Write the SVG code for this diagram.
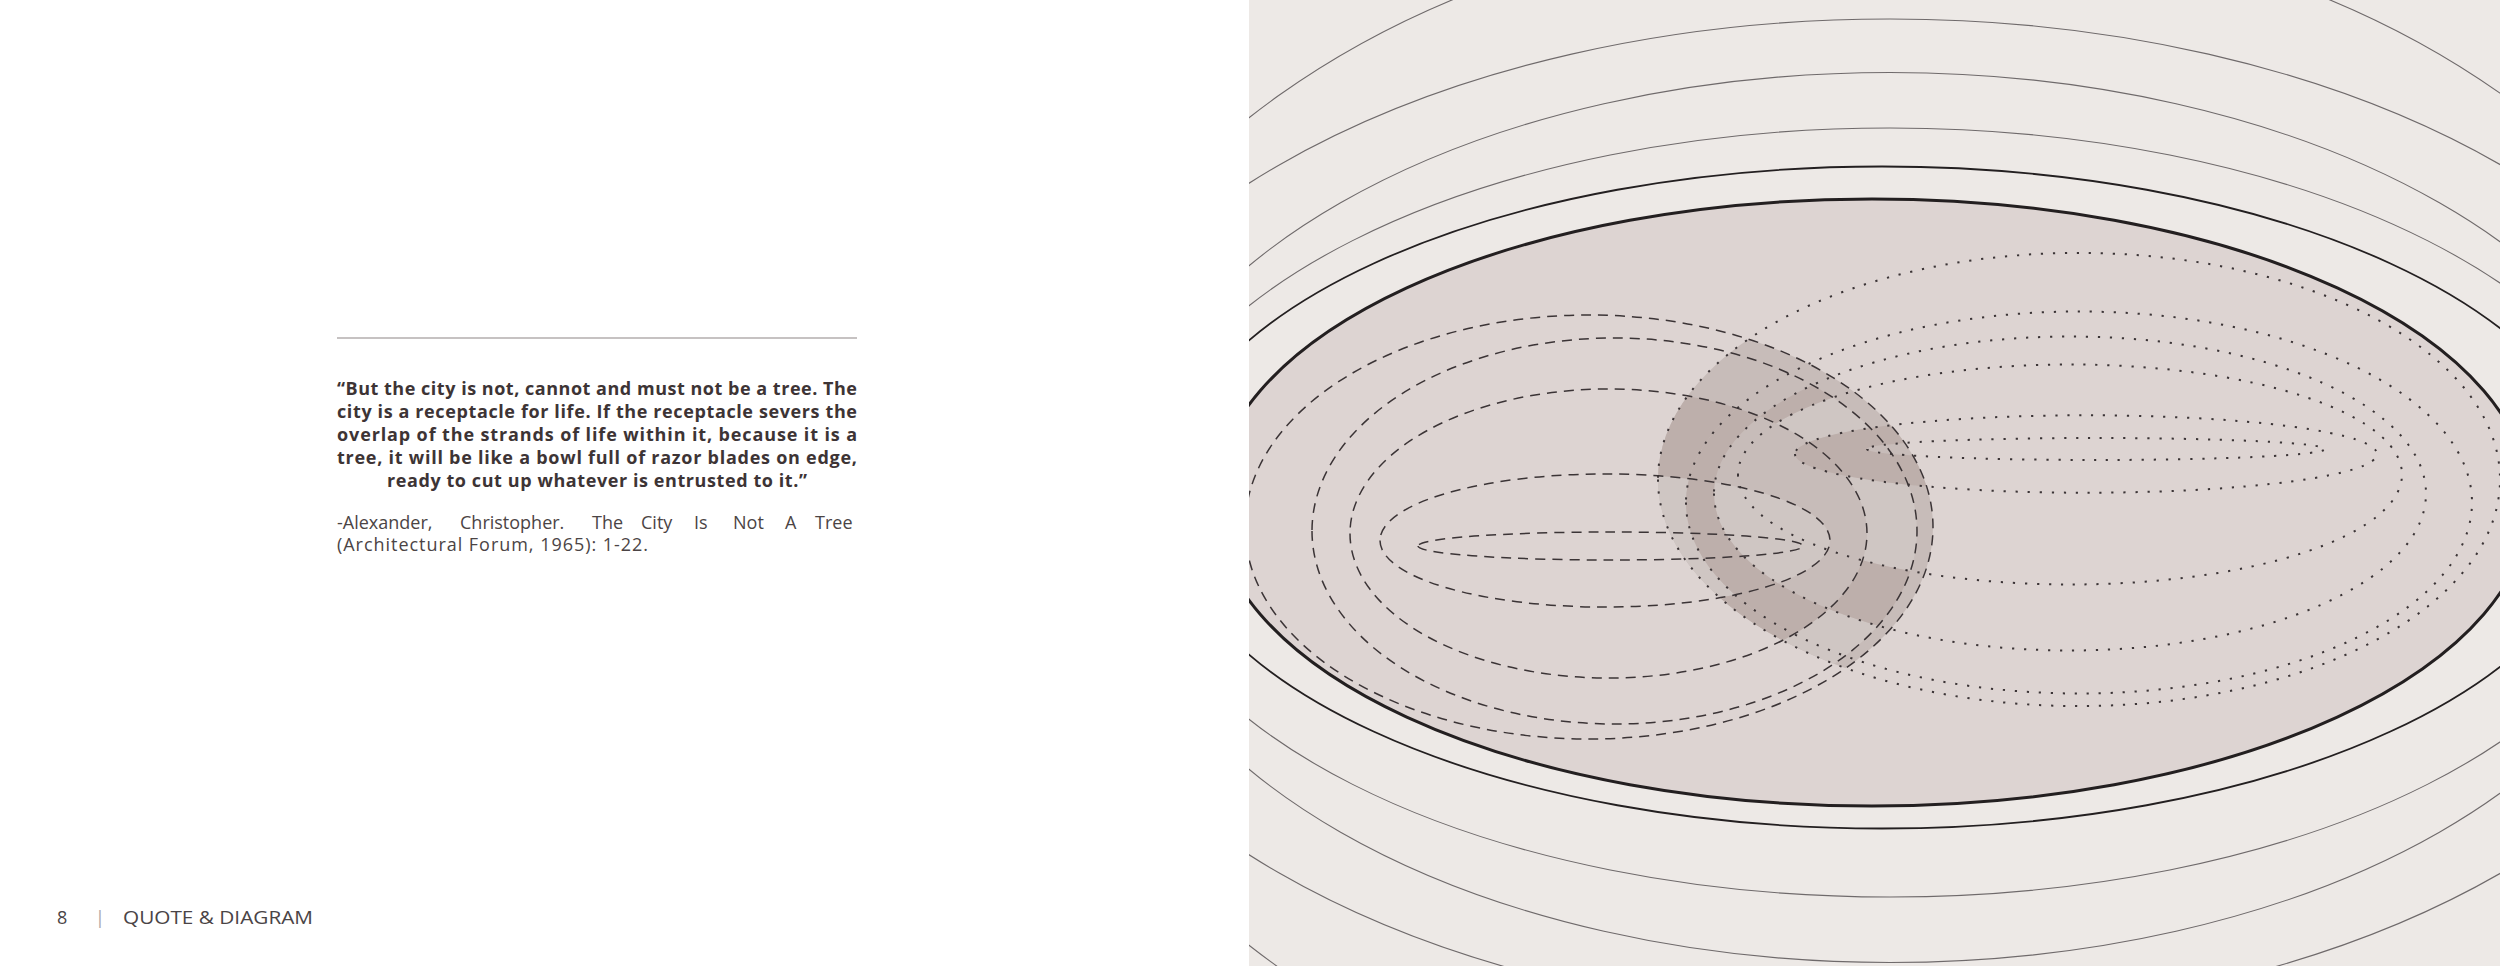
<svg xmlns="http://www.w3.org/2000/svg" width="2500" height="966" viewBox="0 0 2500 966">
<style>
.q{font-family:'Open Sans','Liberation Sans',sans-serif;font-weight:700;font-size:18px;fill:#3d3435}
.a{font-family:'Open Sans','Liberation Sans',sans-serif;font-weight:400;font-size:18px;fill:#4b4445}
.f{font-family:'Open Sans','Liberation Sans',sans-serif;font-weight:400;font-size:18px;fill:#4a4446}
.thin{fill:none;stroke:#6f6a6b;stroke-width:1.1}
.dash{fill:none;stroke:#3b3436;stroke-width:1.5;stroke-dasharray:10 7}
.dot{fill:none;stroke:#3b3436;stroke-width:2;stroke-dasharray:2.2 9.8}
.dk{fill:#bdafab}
.lt{fill:#cfc6c3}
</style>
<defs>
<clipPath id="panel"><rect x="1249" y="0" width="1251" height="966"/></clipPath>
<clipPath id="lower"><rect x="1249" y="545" width="1251" height="421"/></clipPath>
<clipPath id="cP1"><path d="M1658,479.5 a421,226.6 0 1,0 842,0 a421,226.6 0 1,0 -842,0 Z"/></clipPath>
<clipPath id="cR1"><path clip-rule="evenodd" d="M1658,479.5 a421,226.6 0 1,0 842,0 a421,226.6 0 1,0 -842,0 Z M1686,502.5 a393,191 0 1,0 786,0 a393,191 0 1,0 -786,0 Z"/></clipPath>
<clipPath id="cR2"><path clip-rule="evenodd" d="M1686,502.5 a393,191 0 1,0 786,0 a393,191 0 1,0 -786,0 Z M1714,493.5 a356,157 0 1,0 712,0 a356,157 0 1,0 -712,0 Z"/></clipPath>
<clipPath id="cR3"><path clip-rule="evenodd" d="M1714,493.5 a356,157 0 1,0 712,0 a356,157 0 1,0 -712,0 Z M1738,474.5 a332,110 0 1,0 664,0 a332,110 0 1,0 -664,0 Z"/></clipPath>
<clipPath id="cR4"><path clip-rule="evenodd" d="M1738,474.5 a332,110 0 1,0 664,0 a332,110 0 1,0 -664,0 Z M1795,454 a291,38.7 0 1,0 582,0 a291,38.7 0 1,0 -582,0 Z"/></clipPath>
<clipPath id="cR5"><path clip-rule="evenodd" d="M1795,454 a291,38.7 0 1,0 582,0 a291,38.7 0 1,0 -582,0 Z M1867,449 a229,11 0 1,0 458,0 a229,11 0 1,0 -458,0 Z"/></clipPath>
<clipPath id="cR13"><path clip-rule="evenodd" d="M1658,479.5 a421,226.6 0 1,0 842,0 a421,226.6 0 1,0 -842,0 Z M1714,493.5 a356,157 0 1,0 712,0 a356,157 0 1,0 -712,0 Z"/></clipPath>
<clipPath id="cR35"><path clip-rule="evenodd" d="M1714,493.5 a356,157 0 1,0 712,0 a356,157 0 1,0 -712,0 Z M1795,454 a291,38.7 0 1,0 582,0 a291,38.7 0 1,0 -582,0 Z"/></clipPath>
</defs>

<rect x="0" y="0" width="2500" height="966" fill="#ffffff"/>

<g id="text-page">
<line x1="337" y1="338" x2="857" y2="338" stroke="#b3aeae" stroke-width="1.5"/>
<g id="quote">
<text class="q" x="337" y="395" textLength="520" lengthAdjust="spacing">“But the city is not, cannot and must not be a tree. The</text>
<text class="q" x="337" y="418" textLength="520" lengthAdjust="spacing">city is a receptacle for life. If the receptacle severs the</text>
<text class="q" x="337" y="441" textLength="520" lengthAdjust="spacing">overlap of the strands of life within it, because it is a</text>
<text class="q" x="337" y="464" textLength="520" lengthAdjust="spacing">tree, it will be like a bowl full of razor blades on edge,</text>
<text class="q" x="387" y="487" textLength="420" lengthAdjust="spacing">ready to cut up whatever is entrusted to it.”</text>
</g>
<g id="citation">
<text class="a" y="529"><tspan x="337">-Alexander,</tspan> <tspan x="460">Christopher.</tspan> <tspan x="592">The</tspan> <tspan x="641">City</tspan> <tspan x="694">Is</tspan> <tspan x="733">Not</tspan> <tspan x="785">A</tspan> <tspan x="815">Tree</tspan></text>
<text class="a" x="337" y="551" textLength="311" lengthAdjust="spacing">(Architectural Forum, 1965): 1-22.</text>
</g>
<g id="footer">
<text class="f" x="57" y="924">8</text>
<text class="f" x="95" y="924" style="fill:#aaa4a4">|</text>
<text class="f" x="123" y="924" textLength="190" lengthAdjust="spacingAndGlyphs">QUOTE &amp; DIAGRAM</text>
</g>
</g>

<g id="diagram" clip-path="url(#panel)">
<rect x="1249" y="0" width="1251" height="966" fill="#ede9e6"/>
<g id="outer-rings">
<ellipse class="thin" cx="1891" cy="531.5" rx="866" ry="616.5"/>
<ellipse class="thin" cx="1890" cy="519" rx="865" ry="500"/>
<ellipse class="thin" cx="1890" cy="517.5" rx="777" ry="445"/>
<ellipse class="thin" cx="1890" cy="512.5" rx="760" ry="384.5"/>
<ellipse cx="1882" cy="497.5" rx="719" ry="331" fill="none" stroke="#231f20" stroke-width="1.8"/>
</g>
<g id="city">
<ellipse cx="1872" cy="502.5" rx="658" ry="303.5" fill="#ddd4d2"/>
</g>
<g id="overlap-shading">
<g clip-path="url(#cP1)"><path fill="#c7bcb9" d="M1245,527 a344,212 0 1,0 688,0 a344,212 0 1,0 -688,0 Z"/></g>
<g clip-path="url(#cR1)"><path class="lt" d="M1380,540.5 a225,66.5 0 1,0 450,0 a225,66.5 0 1,0 -450,0 Z"/></g>
<g clip-path="url(#lower)"><g clip-path="url(#cR13)"><path class="lt" fill-rule="evenodd" d="M1312,531 a302.5,193 0 1,0 605,0 a302.5,193 0 1,0 -605,0 Z M1350,533.5 a258.5,144.5 0 1,0 517,0 a258.5,144.5 0 1,0 -517,0 Z"/></g></g>
<g clip-path="url(#cR4)"><path class="lt" fill-rule="evenodd" d="M1312,531 a302.5,193 0 1,0 605,0 a302.5,193 0 1,0 -605,0 Z M1350,533.5 a258.5,144.5 0 1,0 517,0 a258.5,144.5 0 1,0 -517,0 Z"/></g>
<g clip-path="url(#cR35)"><path class="lt" d="M1380,540.5 a225,66.5 0 1,0 450,0 a225,66.5 0 1,0 -450,0 Z"/></g>
<g clip-path="url(#cR1)"><path class="dk" fill-rule="evenodd" d="M1350,533.5 a258.5,144.5 0 1,0 517,0 a258.5,144.5 0 1,0 -517,0 Z M1380,540.5 a225,66.5 0 1,0 450,0 a225,66.5 0 1,0 -450,0 Z"/></g>
<g clip-path="url(#cR2)"><path class="dk" d="M1350,533.5 a258.5,144.5 0 1,0 517,0 a258.5,144.5 0 1,0 -517,0 Z"/></g>
<g clip-path="url(#cR3)"><path class="dk" fill-rule="evenodd" d="M1312,531 a302.5,193 0 1,0 605,0 a302.5,193 0 1,0 -605,0 Z M1350,533.5 a258.5,144.5 0 1,0 517,0 a258.5,144.5 0 1,0 -517,0 Z"/></g>
<g clip-path="url(#cR5)"><path class="dk" d="M1245,527 a344,212 0 1,0 688,0 a344,212 0 1,0 -688,0 Z"/></g>
</g>
<g id="tree-sets-dashed">
<path class="dash" d="M1245,527 a344,212 0 1,0 688,0 a344,212 0 1,0 -688,0 Z"/>
<path class="dash" d="M1312,531 a302.5,193 0 1,0 605,0 a302.5,193 0 1,0 -605,0 Z"/>
<path class="dash" d="M1350,533.5 a258.5,144.5 0 1,0 517,0 a258.5,144.5 0 1,0 -517,0 Z"/>
<path class="dash" d="M1380,540.5 a225,66.5 0 1,0 450,0 a225,66.5 0 1,0 -450,0 Z"/>
<path class="dash" d="M1418,546 a192.5,14 0 1,0 385,0 a192.5,14 0 1,0 -385,0 Z"/>
</g>
<g id="tree-sets-dotted">
<path class="dot" d="M1658,479.5 a421,226.6 0 1,0 842,0 a421,226.6 0 1,0 -842,0 Z"/>
<path class="dot" d="M1686,502.5 a393,191 0 1,0 786,0 a393,191 0 1,0 -786,0 Z"/>
<path class="dot" d="M1714,493.5 a356,157 0 1,0 712,0 a356,157 0 1,0 -712,0 Z"/>
<path class="dot" d="M1738,474.5 a332,110 0 1,0 664,0 a332,110 0 1,0 -664,0 Z"/>
<path class="dot" d="M1795,454 a291,38.7 0 1,0 582,0 a291,38.7 0 1,0 -582,0 Z"/>
<path class="dot" d="M1867,449 a229,11 0 1,0 458,0 a229,11 0 1,0 -458,0 Z"/>
</g>
<ellipse id="city-outline" cx="1872" cy="502.5" rx="658" ry="303.5" fill="none" stroke="#231f20" stroke-width="3"/>
</g>
</svg>
